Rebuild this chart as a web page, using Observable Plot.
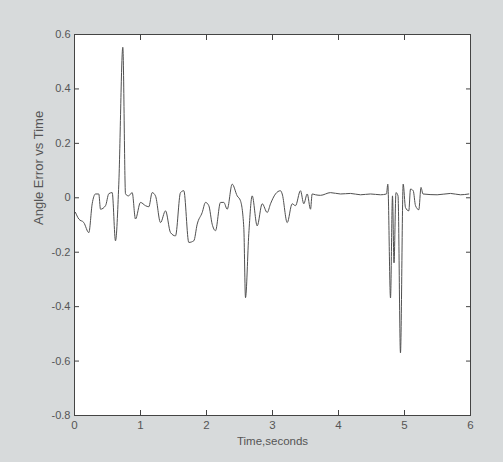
<!DOCTYPE html>
<html><head><meta charset="utf-8">
<script src="https://cdn.jsdelivr.net/npm/d3@7"></script>
<script src="https://cdn.jsdelivr.net/npm/@observablehq/plot@0.6"></script>
<style>
html,body{margin:0;padding:0;background:#d7dadb;}
</style></head><body><div id="chart"></div>
<script>
const time = [0.015,0.065,0.141,0.217,0.268,0.318,0.368,0.394,0.470,0.520,0.571,0.621,0.671,0.732,0.773,0.818,0.874,0.924,1.000,1.076,1.126,1.177,1.227,1.303,1.379,1.455,1.530,1.606,1.656,1.732,1.808,1.859,1.935,1.985,2.035,2.086,2.136,2.212,2.262,2.314,2.389,2.465,2.515,2.565,2.591,2.641,2.692,2.768,2.844,2.920,2.970,3.045,3.121,3.147,3.223,3.298,3.348,3.424,3.474,3.526,3.576,3.601,3.652,3.727,3.879,4.030,4.182,4.333,4.485,4.636,4.727,4.747,4.788,4.818,4.841,4.871,4.902,4.939,4.980,5.015,5.065,5.091,5.132,5.167,5.217,5.250,5.280,5.495,5.697,5.848,5.974];
const angleError = [-0.054,-0.078,-0.091,-0.128,-0.022,0.014,0.014,-0.042,-0.029,0.015,0.019,-0.158,0.050,0.553,0.014,0.007,0.019,-0.078,-0.017,-0.029,-0.033,0.019,0.007,-0.091,-0.048,-0.128,-0.140,0.019,0.026,-0.164,-0.158,-0.097,-0.054,-0.017,-0.029,-0.097,-0.121,-0.017,-0.017,-0.042,0.050,0.007,-0.011,-0.109,-0.367,-0.132,0.007,-0.103,-0.022,-0.054,-0.022,0.014,0.026,0.014,-0.091,-0.022,-0.029,0.026,-0.022,0.014,-0.042,0.014,0.011,0.009,0.019,0.014,0.016,0.011,0.014,0.011,0.014,0.050,-0.368,0.007,-0.239,0.019,0.007,-0.570,0.050,-0.036,-0.048,0.032,0.026,-0.029,-0.044,0.038,0.014,0.011,0.016,0.011,0.014];
const xTicks = [0,1,2,3,4,5,6];
const xTickLabels = ["0","1","2","3","4","5","6"];
const yTicks = [0.6,0.4,0.2,0,-0.2,-0.4,-0.6,-0.8];
const yTickLabels = ["0.6","0.4","0.2","0","-0.2","-0.4","-0.6","-0.8"];
const xTitle = "Time,seconds";
const yTitle = "Angle Error vs Time";

const data = time.map((t, i) => ({t, v: angleError[i]}));
const blank = () => "";
const chart = Plot.plot({
  width: 503, height: 462,
  marginLeft: 74, marginRight: 33, marginTop: 34, marginBottom: 47,
  style: {background: "#d7dadb", fontFamily: "'Liberation Sans', Arial, sans-serif", fontSize: "11px", color: "#555"},
  x: {domain: [0, 6]},
  y: {domain: [-0.8, 0.6]},
  marks: [
    Plot.frame({fill: "white", stroke: "none"}),
    Plot.line(data, {x: "t", y: "v", stroke: "#505050", strokeWidth: 1, curve: "monotone-x"}),
    Plot.frame({stroke: "#444", strokeWidth: 1}),
    Plot.axisX(xTicks, {anchor: "bottom", tickSize: -5, tickFormat: blank, label: null, stroke: "#444"}),
    Plot.axisX(xTicks, {anchor: "top", tickSize: -5, tickFormat: blank, label: null, stroke: "#444"}),
    Plot.axisY(yTicks, {anchor: "left", tickSize: -5, tickFormat: blank, label: null, stroke: "#444"}),
    Plot.axisY(yTicks, {anchor: "right", tickSize: -5, tickFormat: blank, label: null, stroke: "#444"}),
    Plot.axisX(xTicks, {anchor: "bottom", tickSize: 0, tickPadding: 5, label: null, fill: "#555", fontSize: 11.5,
      tickFormat: d => xTickLabels[xTicks.indexOf(d)]}),
    Plot.axisY(yTicks, {anchor: "left", tickSize: 0, tickPadding: 4, label: null, fill: "#555", fontSize: 11,
      tickFormat: d => yTickLabels[yTicks.indexOf(d)]}),
    Plot.text([xTitle], {text: d => d, frameAnchor: "bottom", dy: 29, fill: "#555", fontSize: 11.5}),
    Plot.text([yTitle], {text: d => d, frameAnchor: "left", dx: -36, rotate: -90, fill: "#555", fontSize: 13})
  ]
});
document.getElementById("chart").appendChild(chart);
</script>
</body></html>
